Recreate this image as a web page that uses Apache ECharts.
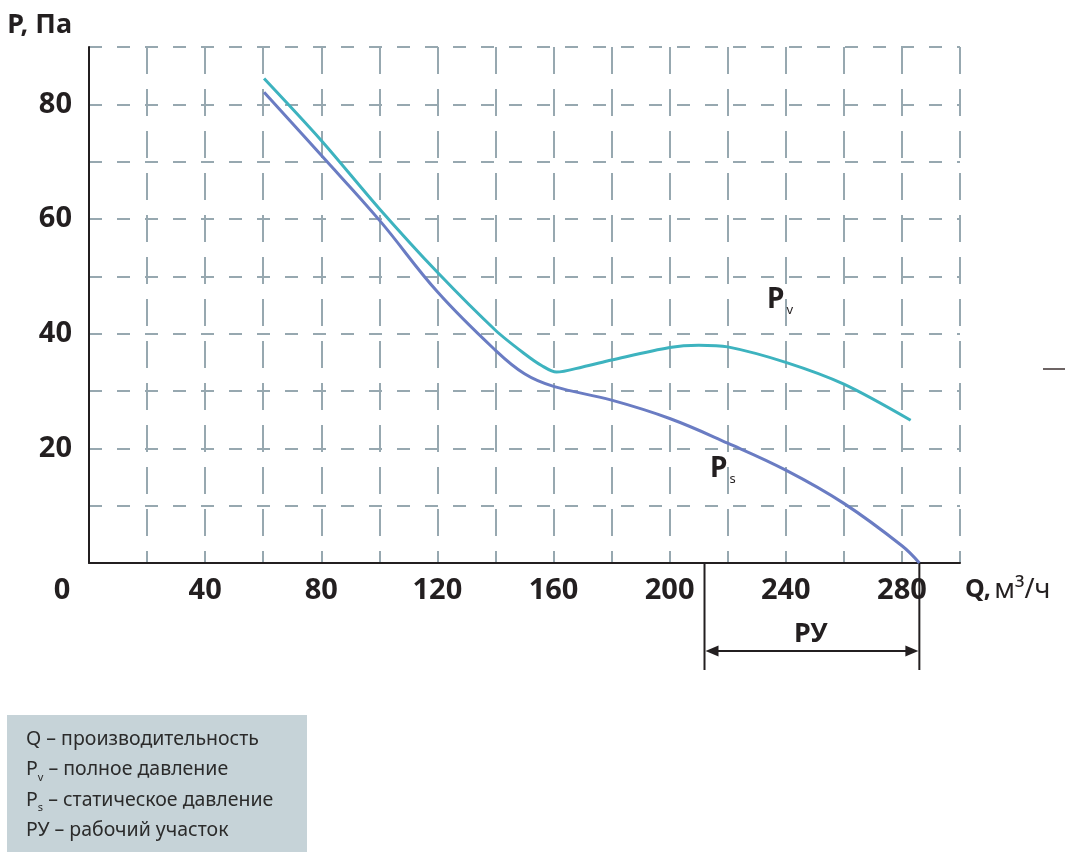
<!DOCTYPE html>
<html><head><meta charset="utf-8">
<script src="https://cdn.jsdelivr.net/npm/echarts@6/dist/echarts.min.js"></script>
<style>html,body{margin:0;padding:0;background:#fff}#c{width:1065px;height:856px}</style>
</head><body><div id="c"></div>
<script>
// ---- data ----
const qTicks = [0, 40, 80, 120, 160, 200, 240, 280];
const pTicks = [20, 40, 60, 80];
const pvQ = [60.3, 80, 100, 120, 140, 150, 156, 161, 170, 180, 200, 210, 220, 240, 260, 283];
const pvP = [84.5, 73.7, 61.8, 50.7, 40.6, 36.5, 34.4, 33.3, 34.2, 35.4, 37.6, 38.0, 37.7, 35.0, 31.2, 24.9];
const psQ = [60.3, 80, 100, 120, 140, 150, 160, 180, 200, 220, 240, 260, 280, 286];
const psP = [82.1, 71.1, 59.8, 47.3, 37.1, 33.0, 30.8, 28.4, 25.2, 20.9, 16.2, 10.4, 3.0, 0];
const ruRange = [212, 286];
const legendLines = [
  ['Q', '', 'производительность'],
  ['P', 'v', 'полное давление'],
  ['P', 's', 'статическое давление'],
  ['РУ', '', 'рабочий участок']
];

const FONT = 'Noto Sans';
const DARK = '#231f20';
const GRIDC = '#97a8b0';
const chart = echarts.init(document.getElementById('c'), null, {renderer: 'canvas'});

const pv = pvQ.map((q, i) => [q, pvP[i]]);
const ps = psQ.map((q, i) => [q, psP[i]]);

chart.setOption({
  backgroundColor: '#ffffff',
  animation: false,
  grid: {left: 89, right: 105, top: 47, bottom: 293, containLabel: false},
  xAxis: {
    type: 'value', min: 0, max: 300, interval: 20,
    axisLine: {show: true, onZero: false, lineStyle: {color: DARK, width: 2}},
    axisTick: {show: false},
    splitLine: {show: true, lineStyle: {color: GRIDC, width: 2, type: [27, 15], dashOffset: 0}},
    axisLabel: {
      margin: 13, fontFamily: FONT, fontWeight: 'bold', fontSize: 29, color: DARK,
      formatter: v => {
        if (!qTicks.includes(v)) return '';
        if (v === 0) return '{z|0}';
        return String(v);
      },
      rich: {z: {fontFamily: FONT, fontWeight: 'bold', fontSize: 29, color: DARK, padding: [0, 54, 0, 0]}}
    },
    name: '{b|Q,} {n|м³/ч}', nameLocation: 'end', nameGap: 5,
    nameTextStyle: {
      padding: [54, 0, 0, 0],
      rich: {
        b: {fontFamily: FONT, fontWeight: 'bold', fontSize: 25, color: DARK},
        n: {fontFamily: FONT, fontWeight: 'normal', fontSize: 27, color: DARK}
      }
    }
  },
  yAxis: {
    type: 'value', min: 0, max: 90, interval: 10,
    axisLine: {show: true, onZero: false, lineStyle: {color: DARK, width: 2}},
    axisTick: {show: false},
    splitLine: {show: true, lineStyle: {color: GRIDC, width: 2, type: [13, 15]}},
    axisLabel: {
      margin: 17, fontFamily: FONT, fontWeight: 'bold', fontSize: 29, color: DARK,
      formatter: v => pTicks.includes(v) ? String(v) : ''
    },
    name: 'P, Па', nameLocation: 'end', nameGap: 8,
    nameTextStyle: {fontFamily: FONT, fontWeight: 'bold', fontSize: 27, color: DARK, align: 'right', padding: [0, 17, 0, 0]}
  },
  series: [
    {name: 'Pv', type: 'line', data: pv, smooth: 0.3, showSymbol: false,
     lineStyle: {color: '#3db3bf', width: 3}, z: 3},
    {name: 'Ps', type: 'line', data: ps, smooth: 0.4, showSymbol: false,
     lineStyle: {color: '#6a7cc3', width: 3}, z: 3}
  ]
});

// ---- annotations ----
const x1 = chart.convertToPixel({gridIndex: 0}, [ruRange[0], 0])[0];
const x2 = chart.convertToPixel({gridIndex: 0}, [ruRange[1], 0])[0];
const y0 = chart.convertToPixel({gridIndex: 0}, [0, 0])[1];
const arrowY = 651, bracketBottom = 670, ah = 14, aw = 5.5;

const legendRich = {
  t: {fontFamily: FONT, fontSize: 19.5, fill: '#2b2b2b', lineHeight: 30.5},
  sub: {fontFamily: FONT, fontSize: 11, fill: '#2b2b2b', padding: [16, 0, 0, 0], lineHeight: 30.5}
};
const legendText = legendLines.map(l =>
  '{t|' + l[0] + '}' + (l[1] ? '{sub|' + l[1] + '}' : '') + '{t| – ' + l[2] + '}'
).join('\n');

const subRich = {
  p: {fontFamily: FONT, fontWeight: 'bold', fontSize: 28, fill: DARK},
  s: {fontFamily: FONT, fontWeight: 'normal', fontSize: 13, fill: DARK, padding: [20, 0, 0, 2]}
};

chart.setOption({
  graphic: [
    // curve labels
    {type: 'text', left: 767, top: 286, style: {text: '{p|P}{s|v}', rich: subRich}},
    {type: 'text', left: 710, top: 455, style: {text: '{p|P}{s|s}', rich: subRich}},
    // РУ bracket
    {type: 'line', shape: {x1: x1, y1: y0, x2: x1, y2: bracketBottom}, style: {stroke: DARK, lineWidth: 2}},
    {type: 'line', shape: {x1: x2, y1: y0, x2: x2, y2: bracketBottom}, style: {stroke: DARK, lineWidth: 2}},
    {type: 'line', shape: {x1: x1 + 4, y1: arrowY, x2: x2 - 4, y2: arrowY}, style: {stroke: DARK, lineWidth: 2}},
    {type: 'polygon', shape: {points: [[x1 + 1, arrowY], [x1 + ah, arrowY - aw], [x1 + ah, arrowY + aw]]}, style: {fill: DARK}},
    {type: 'polygon', shape: {points: [[x2 - 1, arrowY], [x2 - ah, arrowY - aw], [x2 - ah, arrowY + aw]]}, style: {fill: DARK}},
    {type: 'text', x: (x1 + x2) / 2 - 1, y: 634, style: {
      text: 'РУ', fontFamily: FONT, fontWeight: 'bold', fontSize: 27, fill: DARK,
      textAlign: 'center', textVerticalAlign: 'middle'}},
    // stray mark at right edge
    {type: 'line', shape: {x1: 1043, y1: 369, x2: 1065, y2: 369}, style: {stroke: '#6d6464', lineWidth: 2}},
    // legend box
    {type: 'rect', shape: {x: 7, y: 715, width: 300, height: 137}, style: {fill: '#c6d3d8'}},
    {type: 'text', left: 26, top: 729, style: {text: legendText, rich: legendRich}}
  ]
});
</script></body></html>
